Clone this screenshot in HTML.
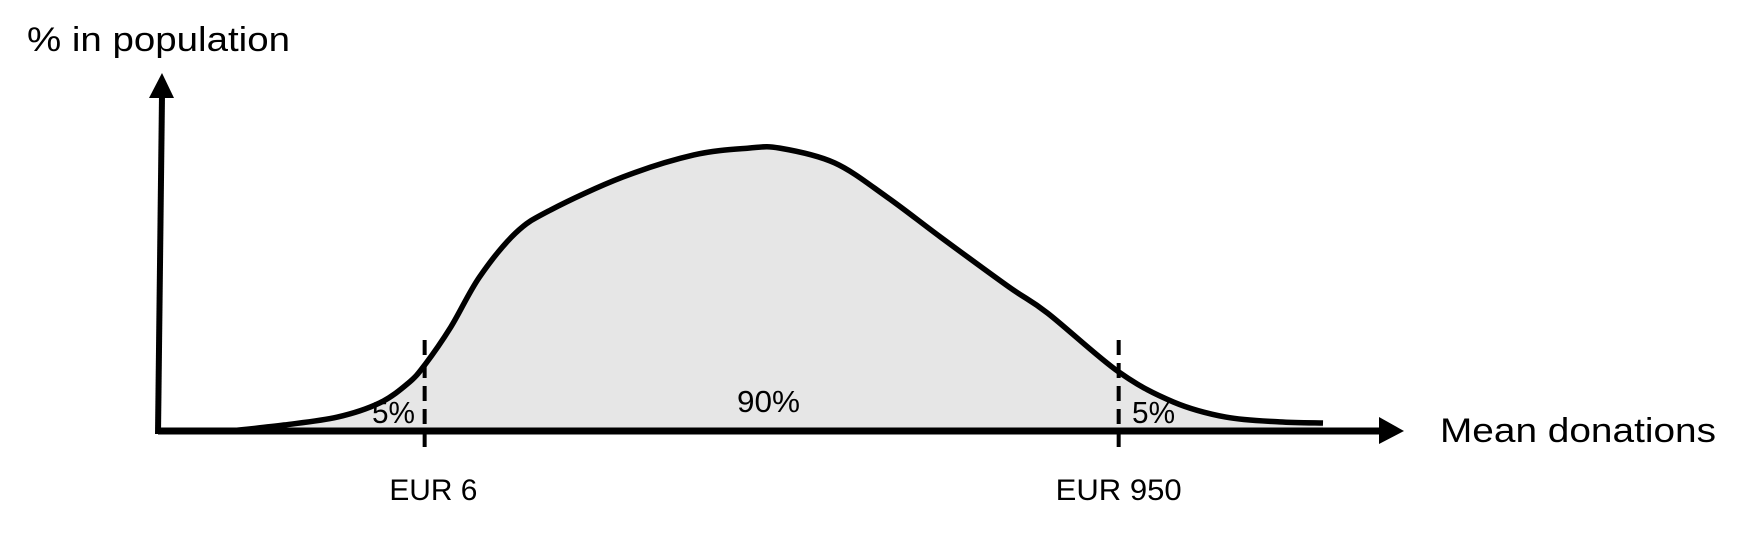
<!DOCTYPE html>
<html><head><meta charset="utf-8"><style>
html,body{margin:0;padding:0;background:#fff;}
svg{display:block;font-family:"Liberation Sans",sans-serif;}
</style></head><body>
<svg id="chart" width="1742" height="535" viewBox="0 0 1742 535" xmlns="http://www.w3.org/2000/svg">
<g id="plot"></g>
<text x="27" y="51" font-size="34" textLength="263" lengthAdjust="spacingAndGlyphs">% in population</text>
<text x="1440" y="442" font-size="34" textLength="276" lengthAdjust="spacingAndGlyphs">Mean donations</text>
</svg>
<script>
const xVals=[5.8,10.1,14.4,17.8,20.1,21.4,23.5,25.8,28.7,31.5,37.3,43.0,47.4,49.9,54.3,58.5,62.8,68.3,71.4,77.1,81.5,85.7,90.0,93.5];
const yVals=[0,2.1,4.9,9.9,16.9,23.2,36.6,54.2,69.7,77.8,89.4,97.2,99.6,99.6,94.4,82.4,68.3,50.7,41.5,20.8,10.2,4.9,3.2,2.8];
const cutoffs=[21.4,77.1];
const cutoffLabels=["EUR 6","EUR 950"];
const cutoffLabelPos=[22.1,77.1];
const cutoffLabelWidth=[88,126];
const shareLabels=["5%","90%","5%"];
const sharePos=[18.9,49.0,79.9];

const X0=158,X1=1404,Y0=431,Y1=147;
const sx=v=>X0+v*(X1-X0)/100;
const sy=v=>Y0-v*(Y0-Y1)/100;
const NS="http://www.w3.org/2000/svg";
const g=document.getElementById('plot');
function mk(t,a){const e=document.createElementNS(NS,t);for(const k in a)e.setAttribute(k,a[k]);return e;}
const P=xVals.map((x,i)=>[sx(x),sy(yVals[i])]);
let d="M"+P[0][0]+","+P[0][1];
for(let i=0;i<P.length-1;i++){
 const p0=P[Math.max(i-1,0)],p1=P[i],p2=P[i+1],p3=P[Math.min(i+2,P.length-1)];
 const c1=[p1[0]+(p2[0]-p0[0])/6,p1[1]+(p2[1]-p0[1])/6];
 const c2=[p2[0]-(p3[0]-p1[0])/6,p2[1]-(p3[1]-p1[1])/6];
 d+=` C${c1[0]},${c1[1]} ${c2[0]},${c2[1]} ${p2[0]},${p2[1]}`;
}
const area=mk('path',{d:d+` L${P[P.length-1][0]},${Y0} L${P[0][0]},${Y0} Z`,fill:'#e6e6e6',stroke:'none'});


g.appendChild(area);
const line=mk('path',{d:d,fill:'none',stroke:'#000','stroke-width':5.5,'stroke-linejoin':'round'});


g.appendChild(line);
const xa=mk('line',{x1:X0,y1:Y0,x2:1382,y2:Y0,stroke:'#000','stroke-width':7});


g.appendChild(xa);
const xh=mk('polygon',{points:`1379,417 1404,431 1379,444`,fill:'#000'});


g.appendChild(xh);
const ya=mk('line',{x1:X0,y1:Y0+3,x2:162,y2:95,stroke:'#000','stroke-width':6});


g.appendChild(ya);
const yh=mk('polygon',{points:`149,98 162,73 174,98`,fill:'#000'});


g.appendChild(yh);
cutoffs.forEach((c,i)=>{
 const l=mk('line',{x1:sx(c),y1:340,x2:sx(c),y2:454,stroke:'#000','stroke-width':4,'stroke-dasharray':'15 8'});
 
 
 g.appendChild(l);
 const t=mk('text',{x:sx(cutoffLabelPos[i]),y:500,'font-size':30,'text-anchor':'middle',textLength:cutoffLabelWidth[i],lengthAdjust:'spacingAndGlyphs'});
 
 
 t.textContent=cutoffLabels[i];
 g.appendChild(t);
});
shareLabels.forEach((s,i)=>{
 const t=mk('text',{x:sx(sharePos[i]),y:i==1?412:423,'font-size':31,'text-anchor':'middle',textLength:i==1?63:43,lengthAdjust:'spacingAndGlyphs'});
 
 
 t.textContent=s;
 g.appendChild(t);
});
</script>
</body></html>
